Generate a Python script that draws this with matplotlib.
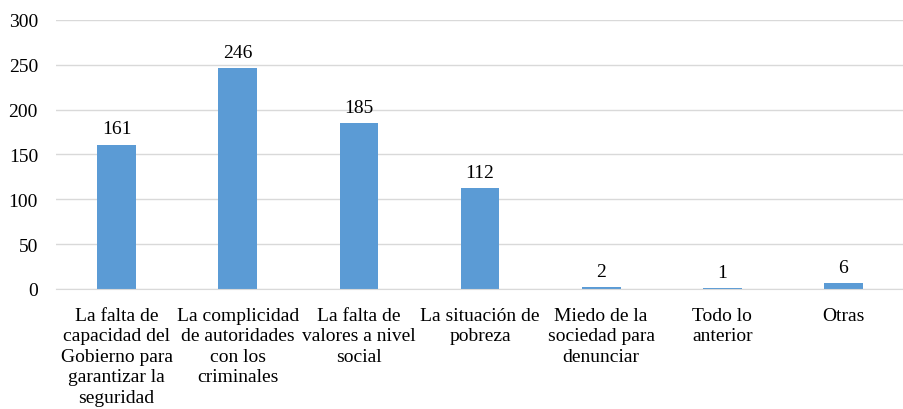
import matplotlib
matplotlib.use("Agg")
import matplotlib.pyplot as plt

categories = [
    "La falta de\ncapacidad del\nGobierno para\ngarantizar la\nseguridad",
    "La complicidad\nde autoridades\ncon los\ncriminales",
    "La falta de\nvalores a nivel\nsocial",
    "La situación de\npobreza",
    "Miedo de la\nsociedad para\ndenunciar",
    "Todo lo\nanterior",
    "Otras",
]
values = [161, 246, 185, 112, 2, 1, 6]
yticks = [0, 50, 100, 150, 200, 250, 300]

plt.rcParams['font.family'] = ['Liberation Serif', 'DejaVu Serif']

fig = plt.figure(figsize=(9.04, 4.10), dpi=100)
ax = fig.add_axes([0.062, 0.293, 0.938, 0.656])

x = list(range(len(categories)))
ax.bar(x, values, width=0.32, color="#5B9BD5", zorder=3)
for xi, v in zip(x, values):
    ax.text(xi, v + 8, str(v), ha="center", va="bottom", fontsize=14, color="#000000")

ax.set_xlim(-0.5, len(categories) - 0.5)
ax.set_ylim(0, 300)
ax.set_yticks(yticks)
ax.set_yticklabels([str(t) for t in yticks], fontsize=14)
ax.yaxis.grid(True, color="#D9D9D9", linewidth=1, zorder=0)
ax.set_xticks(x)
ax.set_xticklabels(categories, fontsize=14, linespacing=1.27, va="top")
ax.tick_params(axis="x", length=0, pad=13)
ax.tick_params(axis="y", length=0, pad=13)
for s in ["top", "right", "left"]:
    ax.spines[s].set_visible(False)
ax.spines["bottom"].set_color("#D9D9D9")
ax.spines["bottom"].set_zorder(4)

fig.savefig("out.png", dpi=100)
